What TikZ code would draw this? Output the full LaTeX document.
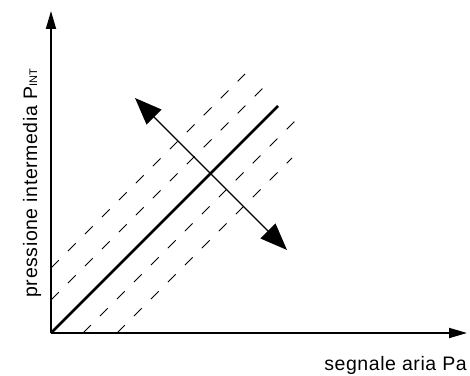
\documentclass[tikz,border=0pt]{standalone}
\usepackage{fontspec}
\setmainfont{Liberation Sans}[LetterSpace=3]
\usetikzlibrary{arrows.meta}

\begin{document}
\begin{tikzpicture}[x=1pt,y=1pt,
  axis/.style={line width=1.8pt,-{Triangle[length=18pt,width=10pt]}},
  ideal/.style={line width=2.6pt},
  shifted/.style={line width=0.8pt,dash pattern=on 11pt off 13pt},
  displace/.style={line width=1.3pt,{Triangle[length=27pt,width=21pt]}-{Triangle[length=27pt,width=21pt]}},
  caption/.style={font=\fontsize{19.5}{23}\selectfont,inner sep=0pt}]
\useasboundingbox (0,0) rectangle (470,375);
% axes
\coordinate (O) at (51,42);
\coordinate (ytip) at (51,364);
\coordinate (xtip) at (467,42);
\draw[axis] (O)--(ytip);
\draw[axis] (O)--(xtip);
% characteristic and its shifted copies
\coordinate (top) at (278,269);
\draw[ideal] (O)--(top);
\coordinate (u1a) at (51,75);  \coordinate (u1b) at (263,287);
\coordinate (u2a) at (51,107); \coordinate (u2b) at (245,301);
\coordinate (d1a) at (83,42);  \coordinate (d1b) at (295,254);
\coordinate (d2a) at (117,42); \coordinate (d2b) at (292,217);
\draw[shifted] (u1a)--(u1b);
\draw[shifted] (u2a)--(u2b);
\draw[shifted] (d1a)--(d1b);
\draw[shifted] (d2a)--(d2b);
% displacement
\coordinate (up) at (135,277);
\coordinate (down) at (287,125);
\draw[displace] (up)--(down);
% labels
\node[caption,rotate=90,anchor=base] (ylab) at (37,192) {pressione intermedia P{\fontsize{11}{13}\selectfont INT}};
\node[caption,anchor=base east] (xlab) at (467,5) {segnale aria Pa};
\end{tikzpicture}
\end{document}
